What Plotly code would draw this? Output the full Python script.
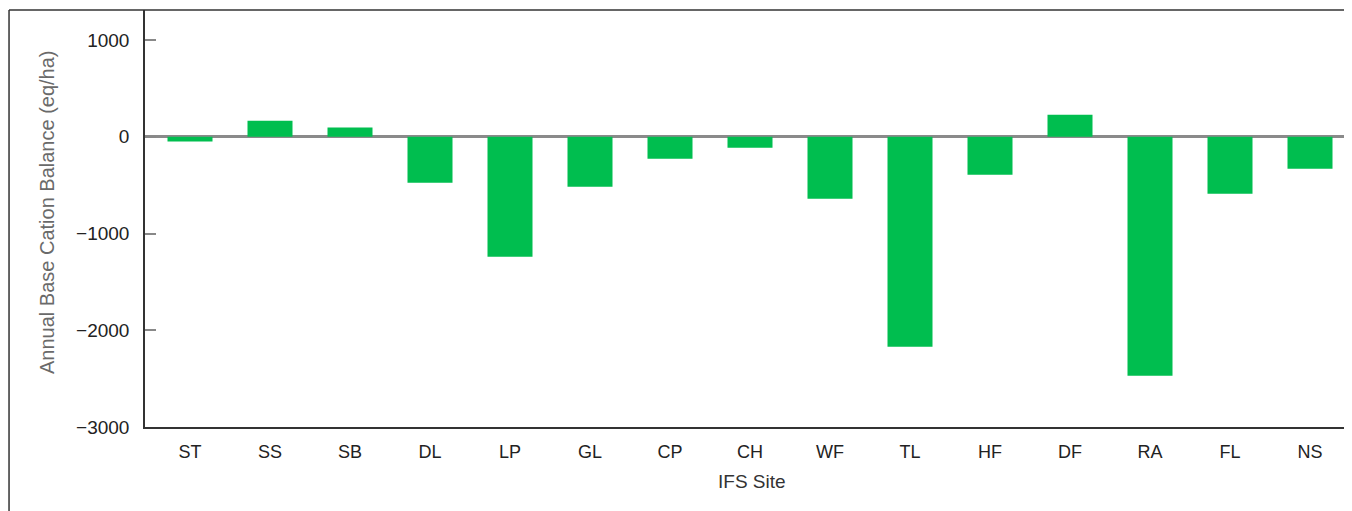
import plotly.graph_objects as go

sites = ["ST", "SS", "SB", "DL", "LP", "GL", "CP", "CH", "WF", "TL", "HF", "DF", "RA", "FL", "NS"]
balance = [-50, 165, 95, -475, -1240, -517, -227, -114, -640, -2170, -393, 228, -2470, -590, -330]
y_ticks = [1000, 0, -1000, -2000, -3000]

BAR = "#00BE4F"
FONT = "Liberation Sans, Arial, Helvetica, sans-serif"

fig = go.Figure(go.Bar(
    x=list(range(len(sites))), y=balance,
    marker=dict(color=BAR, line=dict(width=0)),
    width=0.5625,
))

fig.update_layout(
    width=1336, height=503,
    margin=dict(l=137, r=0, t=2, b=84),
    paper_bgcolor="white", plot_bgcolor="white",
    showlegend=False,
    font=dict(family=FONT, size=18, color="#222"),
    xaxis=dict(
        range=[-0.5625, 14.425],
        tickmode="array", tickvals=list(range(len(sites))), ticktext=sites,
        showgrid=False, zeroline=False,
        showline=True, linecolor="#333", linewidth=1.5,
        ticks="", ticklabelstandoff=8,
        tickfont=dict(size=18, color="#222"),
    ),
    yaxis=dict(
        range=[-3000, 1310],
        tickmode="array", tickvals=y_ticks,
        showgrid=False,
        zeroline=True, zerolinecolor="#8a8a8a", zerolinewidth=2.5,
        showline=True, linecolor="#333", linewidth=1.5,
        ticks="inside", ticklen=11, tickcolor="#888", tickwidth=1.5,
        ticklabelstandoff=10,
        tickfont=dict(size=19, color="#222"),
    ),
    annotations=[
        dict(text="IFS Site", xref="paper", yref="paper", x=0.5063, y=-0.1295,
             xanchor="center", yanchor="middle", showarrow=False,
             font=dict(size=19, color="#333")),
        dict(text="Annual Base Cation Balance (eq/ha)", xref="paper", yref="paper",
             x=-0.0817, y=0.5156, xanchor="center", yanchor="middle", textangle=-90,
             showarrow=False, font=dict(size=20, color="#6a6a6a")),
    ],
    shapes=[
        dict(type="line", xref="paper", yref="paper", x0=-0.1134, x1=1.01, y0=1, y1=1,
             line=dict(color="#333", width=1.5)),
        dict(type="line", xref="paper", yref="paper", x0=-0.1134, x1=-0.1134, y0=1, y1=-0.25,
             line=dict(color="#333", width=1.5)),
    ],
)

fig.write_html("out.html")
